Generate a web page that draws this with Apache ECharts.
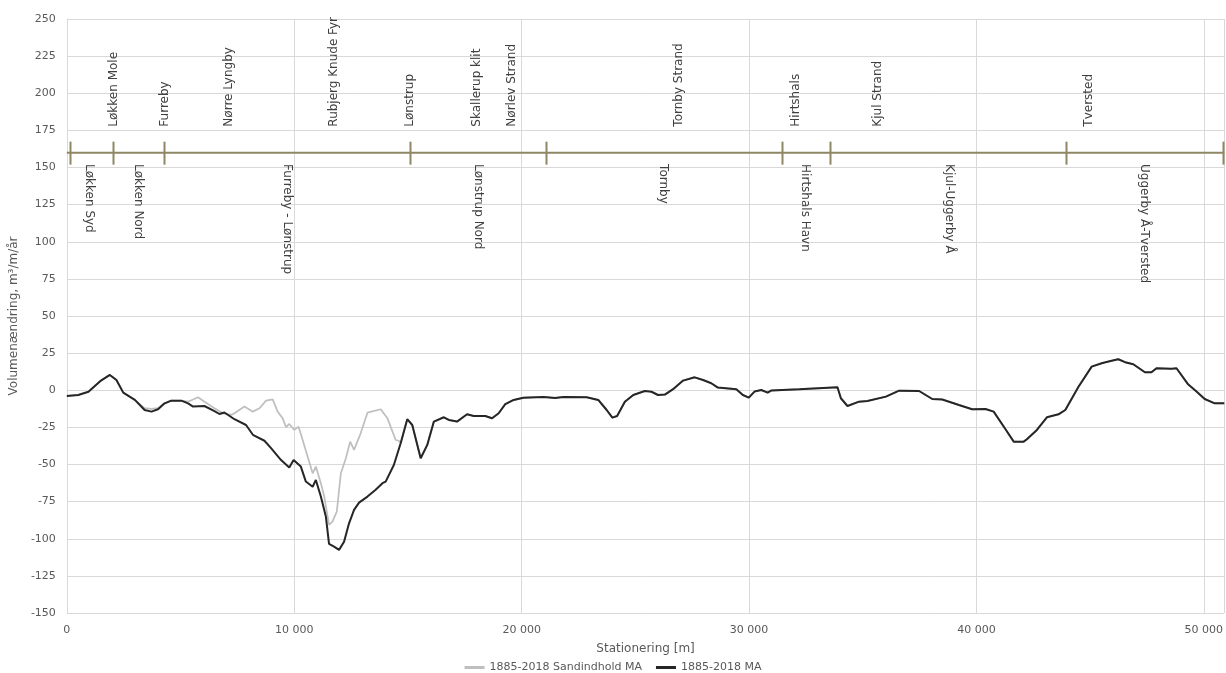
<!DOCTYPE html>
<html>
<head>
<meta charset="utf-8">
<script src="https://cdn.jsdelivr.net/npm/echarts@6/dist/echarts.min.js"></script>
<style>
  html, body { margin: 0; padding: 0; background: #ffffff; }
  #chart { width: 1226px; height: 673px; }
</style>
</head>
<body>
<div id="chart"></div>
<script>
// Stationing along the coast [m] and moving-average volume change [m³/m/år]
const stationX = [0, 500, 950, 1500, 1890, 2180, 2480, 2990, 3420, 3720, 4010, 4300, 4590, 5030, 5330, 5550, 6050, 6490, 6710, 6930, 7370, 7880, 8180, 8690, 8980, 9420, 9780, 9970, 10290, 10510, 10810, 10950, 11170, 11390, 11530, 11750, 11970, 12190, 12410, 12630, 12850, 13220, 13580, 13880, 14020, 14380, 14680, 14970, 15190, 15560, 15850, 16140, 16580, 16800, 17160, 17600, 17890, 18400, 18700, 18990, 19280, 19650, 20080, 20960, 21470, 21840, 22860, 23370, 23740, 23990, 24200, 24540, 24910, 25420, 25710, 26000, 26300, 26660, 27100, 27610, 27980, 28340, 28630, 29440, 29730, 29990, 30240, 30540, 30820, 30970, 32210, 33890, 34040, 34330, 34840, 35210, 36020, 36600, 37480, 38060, 38500, 39230, 39810, 40400, 40760, 41280, 41640, 42080, 42220, 42660, 43100, 43610, 43910, 44490, 45070, 45510, 45950, 46240, 46540, 46900, 47410, 47700, 47920, 48580, 48800, 49310, 49680, 50040, 50480, 50900];
const volumeMA = [-3.8, -3.2, -1, 6.5, 10.3, 6.9, -1.6, -6.5, -13.3, -14.4, -12.8, -8.8, -7, -7, -8.8, -11, -10.6, -14, -16, -15, -19.5, -23.4, -30, -34, -39, -47, -52, -47, -51.4, -61.5, -65, -60.4, -71.6, -85, -103.5, -105.3, -107.5, -102, -89.6, -80.6, -75.7, -71.6, -67, -62.6, -61.5, -50.3, -35.7, -19.5, -23.4, -45.8, -36.8, -21.1, -18.2, -20, -21.1, -16.2, -17.3, -17.3, -18.9, -15.5, -9.4, -6.5, -5, -4.5, -5.2, -4.5, -4.7, -6.5, -13.3, -18.4, -17.3, -7.7, -3.2, -0.5, -1, -3.2, -2.9, 0.7, 6.5, 8.7, 6.9, 4.7, 1.8, 0.7, -3.2, -5, -0.9, 0.2, -1.6, -0.2, 0.7, 2, -5.4, -10.6, -7.7, -7.2, -4.3, -0.3, -0.5, -5.9, -6.2, -9.9, -12.8, -12.6, -14.4, -26.3, -34.6, -34.6, -33, -26.7, -18.2, -16.2, -13.3, 2.4, 15.9, 18.2, 19.9, 20.9, 18.9, 17.5, 12.1, 12.1, 14.8, 14.4, 14.8, 4, -0.9, -5.9, -8.8, -8.8];

// Sand-content series: differs from the MA series between about 3 and 15 km
const sandX = [3420, 3720, 4010, 4300, 4590, 5030, 5330, 5770, 6050, 6490, 6860, 7230, 7370, 7810, 8180, 8470, 8760, 9050, 9270, 9490, 9640, 9780, 10000, 10190, 10370, 10590, 10810, 10950, 11170, 11320, 11530, 11680, 11870, 12050, 12270, 12460, 12630, 12920, 13220, 13800, 14100, 14460, 14600];
const sandY = [-12, -12.5, -12, -8.8, -7, -7, -7.7, -4.7, -7.7, -12.1, -15.5, -16.6, -15.5, -11, -14.4, -12.1, -7, -6.1, -14.4, -18.9, -24.9, -22.7, -26.7, -24.5, -33.5, -44.7, -55.9, -51.4, -62.6, -71.6, -90.7, -88.5, -81.8, -55.9, -45.8, -34.6, -40.2, -29, -15.1, -12.8, -18.9, -33.5, -34];

// Coastal section boundaries [m]
const boundaryX = [120, 2050, 4290, 15100, 21050, 31450, 33560, 43960, 50850];
// Place names (upper row) and section names (lower row)
const placeNames = ['Løkken Mole', 'Furreby', 'Nørre Lyngby', 'Rubjerg Knude Fyr', 'Lønstrup', 'Skallerup klit', 'Nørlev Strand', 'Tornby Strand', 'Hirtshals', 'Kjul Strand', 'Tversted'];
const placeX = [2050, 4290, 7140, 11730, 15070, 18010, 19580, 26910, 32070, 35680, 44930];
const sectionNames = ['Løkken Syd', 'Løkken Nord', 'Furreby - Lønstrup', 'Lønstrup Nord', 'Tornby', 'Hirtshals Havn', 'Kjul-Uggerby Å', 'Uggerby Å-Tversted'];
const sectionX = [1000, 3140, 9670, 18070, 26220, 32480, 38790, 47370];

const seriesNames = ['1885-2018 Sandindhold MA', '1885-2018 MA'];
const yTicks = { min: -150, max: 250, step: 25 };
const xTicks = { min: 0, max: 50900, step: 10000 };
const sectionLevel = 160;

const FONT = 'DejaVu Sans, Verdana, sans-serif';

const maPairs = stationX.map((x, i) => [x, volumeMA[i]]);
const sandPairs = maPairs.filter(p => p[0] < sandX[0])
  .concat(sandX.map((x, i) => [x, sandY[i]]))
  .concat(maPairs.filter(p => p[0] > sandX[sandX.length - 1]));

const chart = echarts.init(document.getElementById('chart'), null, { renderer: 'canvas' });

function textItem(list, xs, rot, level) {
  return {
    type: 'custom',
    silent: true,
    z: 5,
    data: xs.map((x, i) => [x, level, i]),
    renderItem: function (params, api) {
      const p = api.coord([api.value(0), api.value(1)]);
      return {
        type: 'text',
        x: p[0], y: p[1],
        rotation: rot,
        style: {
          text: list[api.value(2)],
          align: 'left',
          verticalAlign: 'middle',
          fill: '#404040',
          font: '12px ' + FONT
        }
      };
    }
  };
}

const option = {
  animation: false,
  backgroundColor: '#ffffff',
  grid: { left: 65, right: 0, top: 19, bottom: 60, containLabel: false },
  legend: {
    top: 657,
    left: 'center',
    itemWidth: 20,
    itemHeight: 3,
    itemGap: 14,
    icon: 'rect',
    textStyle: { color: '#595959', fontFamily: FONT, fontSize: 11 },
    data: seriesNames
  },
  xAxis: {
    type: 'value',
    min: xTicks.min, max: xTicks.max, interval: xTicks.step,
    name: 'Stationering [m]',
    nameLocation: 'middle',
    nameGap: 30,
    nameTextStyle: { color: '#595959', fontFamily: FONT, fontSize: 12 },
    axisLine: { show: true, lineStyle: { color: '#D9D9D9', width: 1 } },
    axisTick: { show: false },
    axisLabel: {
      color: '#595959', fontFamily: FONT, fontSize: 11, margin: 12,
      formatter: v => String(v).replace(/\B(?=(\d{3})+(?!\d))/g, ' ')
    },
    splitLine: { show: true, lineStyle: { color: '#D9D9D9', width: 1 } }
  },
  yAxis: {
    type: 'value',
    min: yTicks.min, max: yTicks.max, interval: yTicks.step,
    name: 'Volumenændring, m³/m/år',
    nameLocation: 'middle',
    nameGap: 44,
    nameTextStyle: { color: '#595959', fontFamily: FONT, fontSize: 12 },
    axisLine: { show: true, lineStyle: { color: '#D9D9D9', width: 1 } },
    axisTick: { show: false },
    axisLabel: { color: '#595959', fontFamily: FONT, fontSize: 11, margin: 11 },
    splitLine: { show: true, lineStyle: { color: '#D9D9D9', width: 1 } }
  },
  series: [
    {
      name: seriesNames[0],
      type: 'line',
      data: sandPairs,
      showSymbol: false,
      symbol: 'none',
      lineStyle: { color: '#BFBFBF', width: 1.75 },
      itemStyle: { color: '#BFBFBF' },
      z: 2
    },
    {
      name: seriesNames[1],
      type: 'line',
      data: maPairs,
      showSymbol: false,
      symbol: 'none',
      lineStyle: { color: '#262626', width: 2 },
      itemStyle: { color: '#262626' },
      z: 3
    },
    {
      // section baseline
      type: 'line',
      silent: true,
      data: [[xTicks.min, sectionLevel], [xTicks.max, sectionLevel]],
      showSymbol: false,
      symbol: 'none',
      lineStyle: { color: '#8F8663', width: 2 },
      z: 4
    },
    {
      // section boundary ticks
      type: 'custom',
      silent: true,
      z: 4,
      data: boundaryX.map(x => [x, sectionLevel]),
      renderItem: function (params, api) {
        const p = api.coord([api.value(0), api.value(1)]);
        return {
          type: 'line',
          shape: { x1: Math.round(p[0]) + 0.5, y1: p[1] - 11, x2: Math.round(p[0]) + 0.5, y2: p[1] + 12 },
          style: { stroke: '#8F8663', lineWidth: 2 }
        };
      }
    },
    textItem(placeNames, placeX, Math.PI / 2, 177.5),
    textItem(sectionNames, sectionX, -Math.PI / 2, 152.3)
  ]
};

chart.setOption(option);
</script>
</body>
</html>
